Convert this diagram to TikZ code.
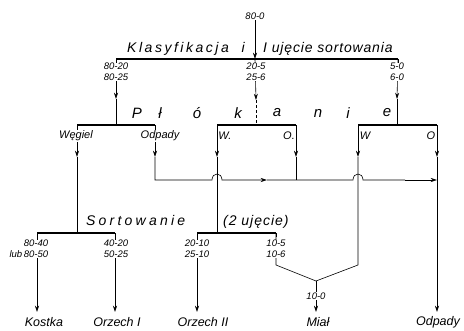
\documentclass[tikz,border=0pt]{standalone}
\usepackage{fontspec}
\setmainfont{Liberation Sans}
\usetikzlibrary{arrows.meta,positioning}
\tikzset{
  vbar/.style={line width=2pt},
  vline/.style={line width=0.6pt,draw=black},
  vtick/.style={line width=0.6pt,draw=black},
  varr/.style={-{Stealth[length=2.2mm,width=1.4mm]},line width=0.6pt,draw=black},
  vnum/.style={font=\itshape\fontsize{9.5}{11}\selectfont,inner sep=0.6pt,fill=white,align=center},
  vtitle/.style={font=\itshape\fontsize{14}{15}\selectfont,inner sep=1pt},
  vside/.style={font=\itshape\fontsize{11}{12}\selectfont,inner sep=0.8pt},
  vout/.style={font=\itshape\fontsize{12.5}{13}\selectfont,inner sep=1pt}
}
\begin{document}
\begin{tikzpicture}[x=1pt,y=-1pt]
  \useasboundingbox (0,0) rectangle (464,330);
  % klasyfikacja
  \coordinate (k1w) at (116,59); \coordinate (k1m) at (255,59); \coordinate (k1e) at (398,59);
  \node[vnum] (feed) at (255,16) {80-0};
  \draw[varr] (feed) -- (k1m);
  \draw[vbar] (k1w) -- (k1e);
  \draw[vtick] (k1w) -- ++(0,4);
  \draw[vtick] (k1e) -- ++(0,4);
  \node[vtitle,anchor=base east] (t1a) at (246,52) {\addfontfeature{LetterSpace=18}Klasyfikacja\ \ i};
  \node[vtitle,anchor=base west] (t1b) at (262,52) {\addfontfeature{LetterSpace=6}I ujęcie sortowania};
  % plukanie
  \coordinate (w1w) at (77,125); \coordinate (w1m) at (116,125); \coordinate (w1e) at (155,125);
  \coordinate (w2w) at (217,125); \coordinate (w2m) at (256,125); \coordinate (w2e) at (296,125);
  \coordinate (w3w) at (358,125); \coordinate (w3m) at (397,125); \coordinate (w3e) at (437,125);
  \coordinate (a1) at (116,99); \coordinate (a2) at (256,100); \coordinate (a3) at (397,99);
  \draw[varr] (k1w) -- (a1);
  \draw[vline] (a1) -- (w1m);
  \draw[varr] (k1m) -- (a2);
  \draw[vline,dash pattern=on 3pt off 2pt] (a2) -- (w2m);
  \draw[varr] (k1e) -- (a3);
  \draw[vline] (a3) -- (w3m);
  \node[vnum] (p1) at (116,72) {80-20\\80-25};
  \node[vnum] (p2) at (256,72) {20-5\\25-6};
  \node[vnum] (p3) at (397,72) {5-0\\6-0};
  \foreach \x/\c in {137/P,160/ł,197/ó,238/k,277/a,318/n,348/i,387/e}
    \node[vtitle,font=\itshape\fontsize{15}{16}\selectfont] (pl\x) at (\x,113) {\c};
  \foreach \n in {1,2,3} {
    \draw[vbar] (w\n w) -- (w\n e);
  }
  % wyjscia z plukania
  \foreach \x/\n in {77/a,155/b,217/c,296/d,358/e,437/f} {
    \coordinate (u\n) at (\x,125);
    \coordinate (v\n) at (\x,157);
    \draw[varr] (u\n) -- (v\n);
  }
  \coordinate (sa) at (77,233);
  \coordinate (hb) at (155,180); \coordinate (hd) at (296,180); \coordinate (hf) at (437,180);
  \coordinate (h1) at (267,180); \coordinate (h2) at (405,180);
  \draw[vline] (va) -- (sa);
  \draw[varr] (vb) -- (hb) -- (212,180) .. controls (212,172) and (222,172) .. (222,180) -- (h1);
  \draw[vline] (h1) -- (hd) -- (353,180) .. controls (353,172) and (363,172) .. (363,180) -- (h2);
  \draw[varr] (h2) -- (hf);
  \draw[vline] (vd) -- (hd);
  \node[vside,fill=white] (wg) at (76,136) {Węgiel};
  \node[vside,fill=white] (od) at (160,136) {Odpady};
  \node[vside] (wa) at (225,136) {W.};
  \node[vside] (oa) at (289,136) {O.};
  \node[vside] (wb) at (365,136) {W};
  \node[vside] (ob) at (431,136) {O};
  % sortowanie
  \coordinate (s1w) at (37,233); \coordinate (s1e) at (115,233);
  \coordinate (s2w) at (197,233); \coordinate (s2c) at (217,233); \coordinate (s2e) at (276,233);
  \draw[vline] (vc) -- (s2c);
  \foreach \n in {1,2} {
    \draw[vbar] (s\n w) -- (s\n e);
    \draw[vtick] (s\n w) -- ++(0,4);
    \draw[vtick] (s\n e) -- ++(0,4);
  }
  \node[vtitle,anchor=base west] (t2a) at (85,225) {\addfontfeature{LetterSpace=23}Sortowanie};
  \node[vtitle,anchor=base west] (t2b) at (222,225) {\addfontfeature{LetterSpace=7}(2 ujęcie)};
  % produkty
  \coordinate (m1) at (276,265); \coordinate (m2) at (358,265); \coordinate (mj) at (316,281);
  \coordinate (e1) at (37,312); \coordinate (e2) at (115,312); \coordinate (e3) at (197,312);
  \coordinate (e4) at (316,312); \coordinate (e5) at (437,312);
  \draw[varr] (s1w) -- (e1);
  \draw[varr] (s1e) -- (e2);
  \draw[varr] (s2w) -- (e3);
  \draw[vline] (s2e) -- (m1) -- (mj);
  \draw[vline] (ve) -- (m2) -- (mj);
  \draw[varr] (mj) -- (e4);
  \draw[varr] (vf) -- (e5);
  \node[vnum] (q1) at (36,249) {80-40\\80-50};
  \node[vnum,anchor=east] (lub) at (q1.south west) [yshift=5pt] {lub};
  \node[vnum] (q2) at (116,249) {40-20\\50-25};
  \node[vnum] (q3) at (197,249) {20-10\\25-10};
  \node[vnum] (q4) at (276,249) {10-5\\10-6};
  \node[vnum] (q5) at (316,296) {10-0};
  \node[vout] (kostka) at (44,322) {Kostka};
  \node[vout] (orz1) at (117,322) {Orzech I};
  \node[vout] (orz2) at (203,322) {Orzech II};
  \node[vout] (mial) at (318,322) {Miał};
  \node[vout] (odp) at (438,322) {Odpady};
\end{tikzpicture}
\end{document}
